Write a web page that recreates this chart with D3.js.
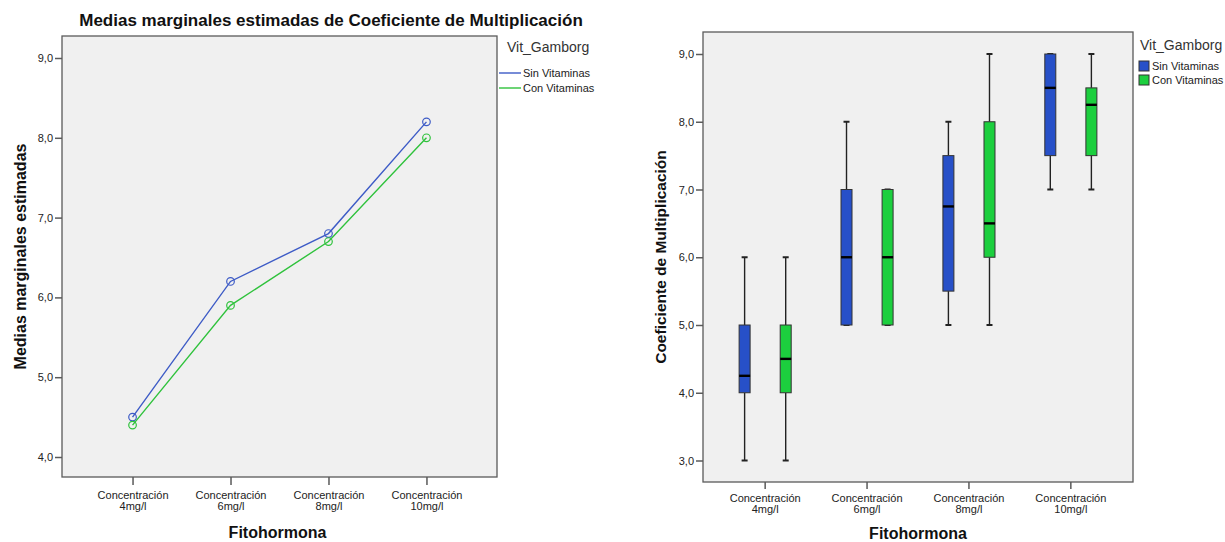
<!DOCTYPE html>
<html>
<head>
<meta charset="utf-8">
<script src="https://cdn.jsdelivr.net/npm/d3@7"></script>
<style>
  html, body { margin: 0; padding: 0; background: #ffffff; }
  svg { display: block; }
  text { font-family: Arial, "Liberation Sans", sans-serif; }
</style>
</head>
<body>
<svg id="chart" width="1225" height="542"></svg>
<script>
// ---------- DATA ----------
const categories = ["Concentración\n4mg/l", "Concentración\n6mg/l", "Concentración\n8mg/l", "Concentración\n10mg/l"];
const seriesNames = ["Sin Vitaminas", "Con Vitaminas"];
// Estimated marginal means (left chart)
const meansSin = [4.5, 6.2, 6.8, 8.2];
const meansCon = [4.4, 5.9, 6.7, 8.0];
// Box plot stats [min, q1, median, q3, max] (right chart)
const boxSin = [[3, 4, 4.25, 5, 6], [5, 5, 6, 7, 8], [5, 5.5, 6.75, 7.5, 8], [7, 7.5, 8.5, 9, 9]];
const boxCon = [[3, 4, 4.5, 5, 6], [5, 5, 6, 7, 7], [5, 6, 6.5, 8, 9], [7, 7.5, 8.25, 8.5, 9]];
const leftTicks = [4, 5, 6, 7, 8, 9];
const rightTicks = [3, 4, 5, 6, 7, 8, 9];

const titleText = "Medias marginales estimadas de Coeficiente de Multiplicación";
const leftYTitle = "Medias marginales estimadas";
const rightYTitle = "Coeficiente de Multiplicación";
const xTitle = "Fitohormona";
const legendTitle = "Vit_Gamborg";

// ---------- STYLE ----------
const lineColors = ["#3d5bc6", "#2fc23c"];
const boxColors = ["#2750c8", "#1ccf3e"];
const frameColor = "#5a5a5a";
const plotBg = "#f0f0f0";
const fmt = v => d3.format(".1f")(v).replace(".", ",");

const svg = d3.select("#chart");

function drawFrame(g, x0, x1, y0, y1) {
  g.append("rect")
    .attr("x", x0).attr("y", y0)
    .attr("width", x1 - x0).attr("height", y1 - y0)
    .attr("fill", plotBg)
    .attr("stroke", frameColor).attr("stroke-width", 1.3);
}

function styleAxis(ax) {
  ax.select(".domain").remove();
  ax.selectAll(".tick line").attr("stroke", frameColor).attr("stroke-width", 1.5);
  ax.selectAll(".tick text").attr("fill", "#222").style("font-size", "11px")
    .style("font-family", "Arial, 'Liberation Sans', sans-serif");
}

function xAxisLabels(ax, dy1) {
  ax.selectAll(".tick text").each(function(d) {
    const t = d3.select(this);
    const parts = d.split("\n");
    t.text(null).attr("y", null).attr("dy", null);
    parts.forEach((p, i) => {
      t.append("tspan").attr("x", 0).attr("y", dy1 + i * 10.5).text(p);
    });
  });
}

// ---------- LEFT CHART ----------
{
  const L = { x0: 62, x1: 497, y0: 36, y1: 477 };
  const g = svg.append("g");
  drawFrame(g, L.x0, L.x1, L.y0, L.y1);

  const x = d3.scalePoint().domain(categories).range([L.x0, L.x1]).padding(0.72);
  const y = d3.scaleLinear().domain([4, 9]).range([457, 58]);

  const yAx = g.append("g").attr("transform", `translate(${L.x0},0)`)
    .call(d3.axisLeft(y).tickValues(leftTicks).tickFormat(fmt).tickSize(7).tickPadding(2));
  styleAxis(yAx);

  const xAx = g.append("g").attr("transform", `translate(0,${L.y1})`)
    .call(d3.axisBottom(x).tickSize(8).tickPadding(3));
  styleAxis(xAx);
  xAxisLabels(xAx, 22);

  const line = d3.line().x((d, i) => x(categories[i])).y(d => y(d));
  [meansSin, meansCon].forEach((s, k) => {
    g.append("path").datum(s).attr("d", line)
      .attr("fill", "none").attr("stroke", lineColors[k]).attr("stroke-width", 1.4);
    g.selectAll(null).data(s).enter().append("circle")
      .attr("cx", (d, i) => x(categories[i])).attr("cy", d => y(d)).attr("r", 3.8)
      .attr("fill", "none").attr("stroke", lineColors[k]).attr("stroke-width", 1.2);
  });

  g.append("text").attr("x", 331).attr("y", 26).attr("text-anchor", "middle")
    .style("font-size", "17px").style("font-weight", "bold").attr("fill", "#111").text(titleText);

  g.append("text").attr("transform", `translate(26,${(L.y0 + L.y1) / 2}) rotate(-90)`)
    .attr("text-anchor", "middle").style("font-size", "16px").style("font-weight", "bold")
    .attr("fill", "#111").text(leftYTitle);

  g.append("text").attr("x", (L.x0 + L.x1) / 2 - 2).attr("y", 538).attr("text-anchor", "middle")
    .style("font-size", "16px").style("font-weight", "bold").attr("fill", "#111").text(xTitle);

  // legend
  const lg = g.append("g");
  lg.append("text").attr("x", 507).attr("y", 52).style("font-size", "14px").attr("fill", "#333").text(legendTitle);
  seriesNames.forEach((n, k) => {
    const yy = 73 + k * 15;
    lg.append("line").attr("x1", 499).attr("x2", 521).attr("y1", yy).attr("y2", yy)
      .attr("stroke", lineColors[k]).attr("stroke-width", 1.4);
    lg.append("text").attr("x", 523).attr("y", yy + 4).style("font-size", "11px").attr("fill", "#222").text(n);
  });
}

// ---------- RIGHT CHART ----------
{
  const R = { x0: 703, x1: 1133, y0: 32, y1: 482 };
  const g = svg.append("g");
  drawFrame(g, R.x0, R.x1, R.y0, R.y1);

  const x = d3.scaleBand().domain(categories).range([R.x0, R.x1]).paddingOuter(0.11).paddingInner(0);
  const xs = d3.scalePoint().domain(seriesNames).range([0, x.bandwidth()]).padding(0.74);
  const y = d3.scaleLinear().domain([3, 9]).range([460.5, 54]);

  const yAx = g.append("g").attr("transform", `translate(${R.x0},0)`)
    .call(d3.axisLeft(y).tickValues(rightTicks).tickFormat(fmt).tickSize(7).tickPadding(2));
  styleAxis(yAx);

  const xAx = g.append("g").attr("transform", `translate(0,${R.y1})`)
    .call(d3.axisBottom(x).tickSize(7).tickPadding(3));
  styleAxis(xAx);
  xAxisLabels(xAx, 20);

  const boxW = 11, capW = 6;
  [boxSin, boxCon].forEach((series, k) => {
    series.forEach((b, i) => {
      const [mn, q1, md, q3, mx] = b;
      const cx = x(categories[i]) + xs(seriesNames[k]);
      const bg = g.append("g");
      bg.append("line").attr("x1", cx).attr("x2", cx).attr("y1", y(mx)).attr("y2", y(q3))
        .attr("stroke", "#222").attr("stroke-width", 1.4);
      bg.append("line").attr("x1", cx).attr("x2", cx).attr("y1", y(q1)).attr("y2", y(mn))
        .attr("stroke", "#222").attr("stroke-width", 1.4);
      [mn, mx].forEach(v => {
        bg.append("line").attr("x1", cx - capW / 2).attr("x2", cx + capW / 2).attr("y1", y(v)).attr("y2", y(v))
          .attr("stroke", "#222").attr("stroke-width", 2);
      });
      bg.append("rect").attr("x", cx - boxW / 2).attr("y", y(q3)).attr("width", boxW).attr("height", y(q1) - y(q3))
        .attr("fill", boxColors[k]).attr("stroke", "#333").attr("stroke-width", 1);
      bg.append("line").attr("x1", cx - boxW / 2).attr("x2", cx + boxW / 2).attr("y1", y(md)).attr("y2", y(md))
        .attr("stroke", "#000").attr("stroke-width", 2.4);
    });
  });

  g.append("text").attr("transform", `translate(666,${(R.y0 + R.y1) / 2}) rotate(-90)`)
    .attr("text-anchor", "middle").style("font-size", "15.5px").style("font-weight", "bold")
    .attr("fill", "#111").text(rightYTitle);

  g.append("text").attr("x", 918).attr("y", 539).attr("text-anchor", "middle")
    .style("font-size", "16px").style("font-weight", "bold").attr("fill", "#111").text(xTitle);

  const lg = g.append("g");
  lg.append("text").attr("x", 1140).attr("y", 50).style("font-size", "14px").attr("fill", "#333").text(legendTitle);
  seriesNames.forEach((n, k) => {
    const yy = 61 + k * 14;
    lg.append("rect").attr("x", 1139).attr("y", yy).attr("width", 10).attr("height", 10)
      .attr("fill", boxColors[k]).attr("stroke", "#333").attr("stroke-width", 1);
    lg.append("text").attr("x", 1152).attr("y", yy + 9).style("font-size", "11px").attr("fill", "#222").text(n);
  });
}
</script>
</body>
</html>
